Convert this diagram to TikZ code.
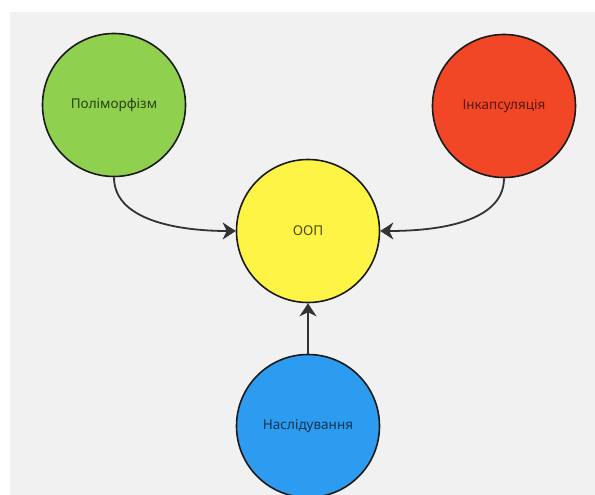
\documentclass[tikz,border=0pt]{standalone}
\usepackage{fontspec}
\setmainfont{Noto Sans}
\usetikzlibrary{arrows.meta}
\definecolor{canvas}{HTML}{F1F1F1}
\definecolor{cgreen}{HTML}{8FD14F}
\definecolor{cred}{HTML}{F24726}
\definecolor{cyellow}{HTML}{FEF445}
\definecolor{cblue}{HTML}{2D9BF0}
\definecolor{edge}{HTML}{1A1A1A}
\definecolor{link}{HTML}{333333}
\tikzset{
  concept/.style={circle, draw=edge, line width=1.6pt, minimum size=143pt,
    inner sep=0pt, font=\fontsize{13.5}{16}\selectfont},
  flow/.style={draw=link, line width=1.8pt,
    -{Stealth[length=13pt, width=17pt, inset=4pt]}},
}
\begin{document}
\begin{tikzpicture}[x=1pt, y=-1pt]
  \useasboundingbox (0,0) rectangle (595,495);
  \clip (0,0) rectangle (595,495);
  \fill[white] (0,0) rectangle (595,495);
  \fill[canvas] (10,12) rectangle (595,495);

  \node[concept, fill=cgreen, text=cgreen!30!black] (poly) at (114,105) {Поліморфізм};
  \node[concept, fill=cred, text=cred!35!black] (encap) at (504,106) {Інкапсуляція};
  \node[concept, fill=cyellow, text=cyellow!30!black] (oop) at (308,231) {ООП};
  \node[concept, fill=cblue, text=cblue!35!black] (inher) at (308,426) {Наслідування};

  \draw[flow] (poly.south) to[out=-90, in=180, looseness=0.9] (oop.west);
  \draw[flow] (encap.south) to[out=-90, in=0, looseness=0.9] (oop.east);
  \draw[flow] (inher.north) -- (oop.south);
\end{tikzpicture}
\end{document}
